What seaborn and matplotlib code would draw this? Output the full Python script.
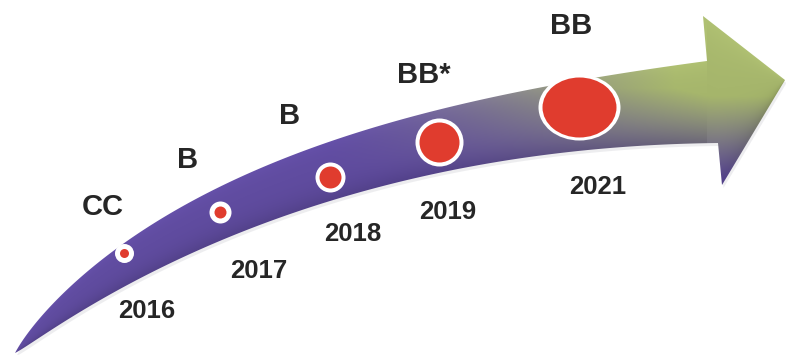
import numpy as np
import matplotlib
matplotlib.use("Agg")
import matplotlib.pyplot as plt
import seaborn as sns
from matplotlib.path import Path
from matplotlib.patches import PathPatch
from matplotlib.transforms import Affine2D

# ---------------- data ----------------
years = ["2016", "2017", "2018", "2019", "2021"]
ratings = ["CC", "B", "B", "BB*", "BB"]
dot_x = [124, 220, 330, 439, 579]
dot_y = [253, 212, 177, 142, 107]
ring_w = [19, 22, 30, 48, 82]     # outer (white) diameter, px
ring_h = [19, 22, 30, 48, 66]
core_w = [9, 12, 22, 40, 74]      # inner (red) diameter, px
core_h = [9, 12, 22, 40, 60]
rating_x = [103, 188, 290, 424, 571]
rating_base = [215, 168, 124, 83, 34]
year_x = [147, 259, 353, 448, 598]
year_base = [318, 278, 241, 219, 194]

W, H = 786, 355
sns.set_theme(style="white")
plt.rcParams["font.family"] = ["Liberation Sans", "DejaVu Sans"]

fig = plt.figure(figsize=(W / 100, H / 100), dpi=100)
ax = fig.add_axes([0, 0, 1, 1])
ax.set_xlim(0, W)
ax.set_ylim(H, 0)
ax.axis("off")


def fit_edge(pts, x0, x1, deg=4, n=400):
    pts = np.asarray(pts, float)
    w = np.ones(len(pts))
    w[0] = 20
    w[-1] = 10
    u = np.sqrt(pts[:, 0] - x0 + 4.0)
    c = np.polyfit(u, pts[:, 1], deg, w=w)
    xs = np.linspace(x0, x1, n)
    return np.column_stack([xs, np.polyval(c, np.sqrt(xs - x0 + 4.0))])


# ---------------- arrow shape ----------------
top_pts = [(15, 353), (33, 329), (67, 293), (100, 261), (125, 237), (150, 222),
           (183, 207), (220, 188), (280, 162), (347, 139), (413, 118),
           (480, 98), (547, 84), (613, 73), (660, 67), (707, 61)]
bot_pts = [(15, 353), (50, 333), (83, 308), (117, 289), (150, 273), (183, 258),
           (217, 244), (260, 226), (317, 205), (380, 184), (480, 165),
           (580, 152), (680, 144), (718, 143)]
head_pts = [(703, 16), (785, 80), (722, 185)]

top = fit_edge(top_pts, 15, 707)
bot = fit_edge(bot_pts, 15, 718)
top[0] = (15, 353)
bot[0] = (15, 353)
verts = np.vstack([top, np.array(head_pts), bot[::-1]])
codes = [Path.MOVETO] + [Path.LINETO] * (len(verts) - 2) + [Path.CLOSEPOLY]
arrow_path = Path(verts, codes)

# faint shadow
shadow = PathPatch(arrow_path.transformed(Affine2D().translate(1.5, 3)),
                   facecolor=(0.55, 0.55, 0.6, 0.15), edgecolor="none", zorder=0.5)
ax.add_patch(shadow)

patch = PathPatch(arrow_path, facecolor="none", edgecolor="none", zorder=1)
ax.add_patch(patch)

# gradient image
X, Y = np.meshgrid(np.arange(W) + 0.5, np.arange(H) + 0.5)
tx = np.interp(X, top[:, 0], top[:, 1], right=61)
bx = np.interp(X, bot[:, 0], bot[:, 1], right=143)
head = X > 707
tx = np.where(head, np.interp(X, [703, 785], [16, 80]), tx)
bx = np.where(head, np.interp(X, [718, 785], [185, 80]), bx)
s = np.clip((Y - tx) / np.maximum(bx - tx, 1), 0, 1)

purple = np.array([96, 76, 160]) / 255
green = np.array([166, 182, 108]) / 255
g = np.clip((X - 330) / 380, 0, 1) * np.clip((178 - Y) / 90, 0, 1)
g = np.clip(g * 1.1, 0, 1)
col = purple[None, None, :] * (1 - g[..., None]) + green[None, None, :] * g[..., None]
shade = 1.0 + 0.06 * (1 - s) ** 6 - 0.14 * s ** 4
col = np.clip(col * shade[..., None], 0, 1)
im = ax.imshow(col, extent=[0, W, H, 0], origin="upper",
               interpolation="bilinear", zorder=1)
im.set_clip_path(patch)
ax.set_xlim(0, W)
ax.set_ylim(H, 0)

# ---------------- dots ----------------
def ellipse_marker(w, h):
    return Path.unit_circle().transformed(Affine2D().scale(1.0, h / w))

px2pt = 0.72
for i in range(len(years)):
    sns.scatterplot(x=[dot_x[i]], y=[dot_y[i]], ax=ax,
                    marker=ellipse_marker(ring_w[i], ring_h[i]),
                    s=(ring_w[i] * px2pt) ** 2, color="white",
                    linewidth=0, zorder=3, legend=False)
    sns.scatterplot(x=[dot_x[i]], y=[dot_y[i]], ax=ax,
                    marker=ellipse_marker(core_w[i], core_h[i]),
                    s=(core_w[i] * px2pt) ** 2, color="#e03c2e",
                    linewidth=0, zorder=4, legend=False)

# ---------------- labels ----------------
for xr, yr, t in zip(rating_x, rating_base, ratings):
    ax.text(xr, yr, t, ha="center", va="baseline", fontsize=21,
            fontweight="bold", color="#262626", zorder=5)
for xy, yy, t in zip(year_x, year_base, years):
    ax.text(xy, yy, t, ha="center", va="baseline", fontsize=18.5,
            fontweight="bold", color="#262626", zorder=5)

ax.set_xlabel("")
ax.set_ylabel("")
fig.savefig("out.png", dpi=100)
